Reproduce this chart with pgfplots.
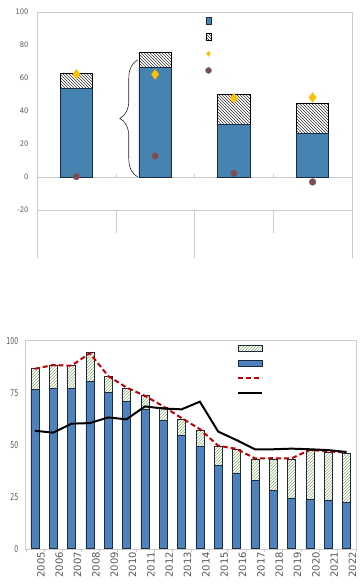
\documentclass[border=0pt]{standalone}
\usepackage{pgfplots}
\pgfplotsset{compat=1.18}
\usepackage{fontspec}
\setmainfont{DejaVu Sans}
\usetikzlibrary{patterns,decorations.pathreplacing}
\definecolor{topblue}{HTML}{4683B0}
\definecolor{botblue}{HTML}{4F81BD}
\definecolor{hatchgreen}{HTML}{8FB06A}
\definecolor{dred}{HTML}{C00000}
\definecolor{gold}{HTML}{FFC000}
\definecolor{mauve}{HTML}{7A4E52}
\definecolor{framegray}{HTML}{CCCCCC}
\definecolor{txtgray}{HTML}{595959}
\definecolor{barline}{HTML}{1C2C40}
\begin{document}
\begin{tikzpicture}[x=1pt,y=1pt]
\path[use as bounding box] (0,0) rectangle (359,584);
% ---------------- top panel ----------------
\begin{axis}[
  at={(37pt,374pt)}, anchor=south west,
  scale only axis, width=315pt, height=198pt,
  xmin=-0.5, xmax=3.5, ymin=-20, ymax=100,
  ytick={-20,0,20,40,60,80,100},
  xtick=\empty,
  axis line style={framegray},
  major tick length=0pt,
  yticklabel style={font=\fontsize{7.5}{8}\selectfont, text=txtgray, xscale=0.9, xshift=-6pt},
  /pgf/number format/assume math mode=true,
  clip=false,
  legend style={draw=none, fill=none, inner sep=0pt, outer sep=0pt,
    at={(axis description cs:0.535,1.0)}, anchor=north west,
    nodes={inner sep=0pt, minimum height=16.7pt, text width=0pt}},
  legend cell align=left,
]
\draw[framegray] (axis cs:-0.5,0) -- (axis cs:3.5,0);
\draw[framegray] (axis cs:-0.5,-20) -- (axis cs:3.5,-20);
\draw[framegray] (axis cs:-0.5,-20) -- (axis cs:-0.5,-49.3);
\draw[framegray] (axis cs:3.5,-20) -- (axis cs:3.5,-49.3);
\draw[framegray] (axis cs:1.5,-20) -- (axis cs:1.5,-49.3);
\draw[framegray] (axis cs:0.5,-20) -- (axis cs:0.5,-34);
\draw[framegray] (axis cs:2.5,-20) -- (axis cs:2.5,-34);
\draw[framegray] (axis cs:0.5,0) -- (axis cs:0.5,2);
\draw[framegray] (axis cs:1.5,0) -- (axis cs:1.5,2);
\draw[framegray] (axis cs:2.5,0) -- (axis cs:2.5,2);
% hatched totals
\addplot[forget plot, ybar, bar width=0.41, bar shift=0pt, draw=black, line width=0.6pt,
  pattern=north west lines, pattern color=black!80]
  coordinates {(0,62.6) (1,75.6) (2,50.2) (3,44.9)};
% blue part
\addplot[forget plot, ybar, bar width=0.41, bar shift=0pt, draw=barline, line width=0.6pt, fill=topblue]
  coordinates {(0,53.5) (1,66.3) (2,31.9) (3,26.6)};
% diamonds
\addplot[forget plot, only marks, mark=diamond*, mark size=4.8pt, color=gold]
  coordinates {(0,62.3) (1,62.2) (2,47.8) (3,48.2)};
% circles
\addplot[forget plot, only marks, mark=*, mark size=3.4pt, draw=mauve!60!gray, fill=mauve]
  coordinates {(0,0.3) (1,12.8) (2,2.2) (3,-3.0)};
% brace
\draw[decorate, decoration={brace, amplitude=18pt}, black!85, line width=0.6pt]
  (axis cs:0.78,0) -- (axis cs:0.78,71);
% legend
\addlegendimage{legend image code/.code={\draw[draw=barline, fill=topblue, line width=0.5pt] (0pt,-3.5pt) rectangle (5.5pt,3.5pt);}}
\addlegendentry{}
\addlegendimage{legend image code/.code={\draw[draw=black, pattern=north west lines, pattern color=black!80, line width=0.5pt] (0pt,-3.5pt) rectangle (5.5pt,3.5pt);}}
\addlegendentry{}
\addlegendimage{legend image code/.code={\path[mark=diamond*, mark size=2.6pt, color=gold] plot coordinates {(2.75pt,0pt)};}}
\addlegendentry{}
\addlegendimage{legend image code/.code={\path[mark=*, mark size=3pt, draw=mauve!60!gray, fill=mauve] plot coordinates {(2.75pt,0pt)};}}
\addlegendentry{}
\end{axis}
% ---------------- bottom panel ----------------
\begin{axis}[
  at={(25.7pt,35.3pt)}, anchor=south west,
  scale only axis, width=330pt, height=208pt,
  xmin=-0.5, xmax=17.5, ymin=0, ymax=100,
  ytick={0,25,50,75,100},
  xtick={0,...,17},
  xticklabels={2005,2006,2007,2008,2009,2010,2011,2012,2013,2014,2015,2016,2017,2018,2019,2020,2021,2022},
  minor xtick={-0.5,0.5,...,17.5},
  major tick length=0pt,
  minor tick length=3pt,
  tick align=outside,
  tick pos=left,
  tick style={framegray},
  axis line style={framegray},
  yticklabel style={font=\fontsize{9.5}{10}\selectfont, text=txtgray, xscale=0.65, xshift=-8pt},
  xticklabel style={font=\fontsize{10}{10}\selectfont, text=txtgray, rotate=90, anchor=east, xshift=0pt, yshift=-6pt},
  /pgf/number format/assume math mode=true,
  clip=false,
  legend style={draw=none, fill=none, inner sep=0pt, outer sep=0pt,
    at={(axis description cs:0.64,1.0)}, anchor=north west,
    nodes={inner sep=0pt, minimum height=15pt, text width=0pt}},
  legend cell align=left,
]
\addplot[forget plot, ybar, bar width=0.43, bar shift=0pt, draw=barline, line width=0.6pt,
  pattern=north east lines, pattern color=hatchgreen]
  coordinates {(0,86.7) (1,88.0) (2,88.0) (3,94.2) (4,82.9) (5,77.2) (6,73.6) (7,68.0) (8,62.0)
    (9,57.1) (10,49.4) (11,47.6) (12,43.1) (13,43.1) (14,43.1) (15,47.1) (16,46.3) (17,45.7)};
\addplot[forget plot, ybar, bar width=0.43, bar shift=0pt, draw=barline, line width=0.6pt, fill=botblue]
  coordinates {(0,76.6) (1,77.2) (2,77.2) (3,80.6) (4,75.2) (5,70.8) (6,67.1) (7,61.8) (8,54.6)
    (9,49.0) (10,40.1) (11,36.4) (12,32.7) (13,28.0) (14,24.4) (15,23.7) (16,23.2) (17,22.4)};
\addplot[forget plot, dred, line width=2pt, dash pattern=on 5pt off 3pt, mark=none]
  coordinates {(0,86.5) (1,88.3) (2,88.0) (3,94.0) (4,83.0) (5,77.5) (6,73.5) (7,68.5) (8,62.8)
    (9,57.5) (10,49.5) (11,48.0) (12,43.4) (13,43.5) (14,43.4) (15,47.5) (16,46.8) (17,46.2)};
\addplot[forget plot, black, line width=2pt, mark=none]
  coordinates {(0,56.7) (1,55.8) (2,60.1) (3,60.4) (4,63.1) (5,62.2) (6,68.4) (7,67.4) (8,67.0)
    (9,70.7) (10,56.3) (11,52.2) (12,47.8) (13,47.8) (14,48.1) (15,47.8) (16,47.4) (17,46.5)};
\addlegendimage{legend image code/.code={\draw[draw=barline, line width=0.6pt, pattern=north east lines, pattern color=hatchgreen] (0pt,-3pt) rectangle (24pt,3pt);}}
\addlegendentry{}
\addlegendimage{legend image code/.code={\draw[draw=barline, line width=0.6pt, fill=botblue] (0pt,-3pt) rectangle (24pt,3pt);}}
\addlegendentry{}
\addlegendimage{legend image code/.code={\draw[dred, line width=2pt, dash pattern=on 5pt off 3pt] (0pt,0pt) -- (24pt,0pt);}}
\addlegendentry{}
\addlegendimage{legend image code/.code={\draw[black, line width=2pt] (0pt,0pt) -- (24pt,0pt);}}
\addlegendentry{}
\end{axis}
\end{tikzpicture}
\end{document}
